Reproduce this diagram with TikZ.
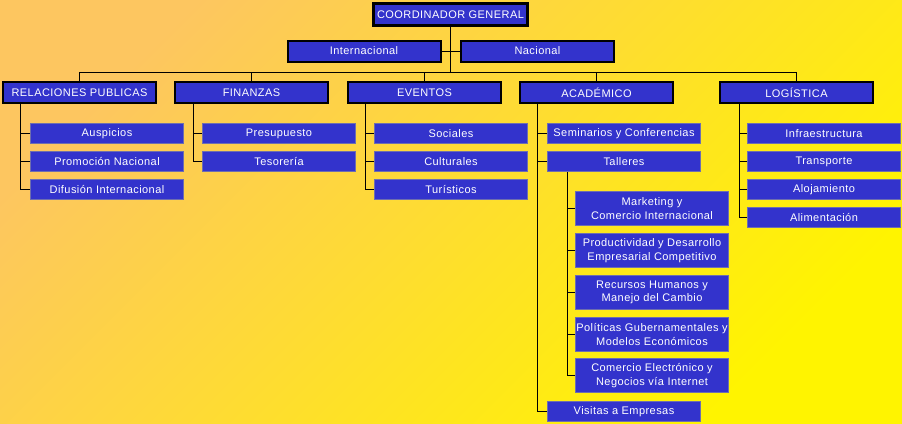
\documentclass[tikz,border=0pt]{standalone}
\usepackage{fontspec}
\setmainfont[LetterSpace=4]{Liberation Sans}
\definecolor{boxblue}{RGB}{51,51,204}
\definecolor{subedge}{RGB}{110,110,175}
\definecolor{bgorange}{RGB}{253,198,96}
\definecolor{bgyellow}{RGB}{255,244,0}
\begin{document}
\begin{tikzpicture}[x=1pt,y=-1pt,
  every node/.style={font=\fontsize{11}{13.5}\selectfont, text=white, inner sep=0pt, align=center},
  topbox/.style={fill=boxblue, draw=black, line width=2pt, minimum width=153pt, minimum height=21pt},
  subbox/.style={fill=boxblue, draw=subedge, line width=0.7pt, minimum width=153pt, minimum height=20pt},
  tallbox/.style={fill=boxblue, draw=subedge, line width=0.7pt, minimum width=153pt, minimum height=34pt},
  conn/.style={draw=black, line width=1pt}]
\useasboundingbox (0,0) rectangle (902,423);
\shade[top color=bgorange, bottom color=bgyellow, shading angle=45] (0,0) rectangle (902,423);

% top levels
\node[topbox, line width=3pt, minimum width=154pt, minimum height=22pt] (coord) at (450.5,14.5) {COORDINADOR GENERAL};
\node[topbox] (intl) at (364,51) {Internacional};
\node[topbox] (nac) at (537.5,51) {Nacional};
\coordinate (bus) at (450.5,72);

\node[topbox] (rp) at (79.5,92.5) {RELACIONES PUBLICAS};
\node[topbox] (fin) at (251.5,92.5) {FINANZAS};
\node[topbox] (ev) at (424.5,92.5) {EVENTOS};
\node[topbox] (aca) at (596.5,92.5) {ACADÉMICO};
\node[topbox] (log) at (796.5,92.5) {LOGÍSTICA};

% relaciones publicas
\node[subbox] (rp1) at (107,133.5) {Auspicios};
\node[subbox] (rp2) at (107,161.5) {Promoción Nacional};
\node[subbox] (rp3) at (107,189.5) {Difusión Internacional};
% finanzas
\node[subbox] (fin1) at (279,133.5) {Presupuesto};
\node[subbox] (fin2) at (279,161.5) {Tesorería};
% eventos
\node[subbox] (ev1) at (451,133.5) {Sociales};
\node[subbox] (ev2) at (451,161.5) {Culturales};
\node[subbox] (ev3) at (451,189.5) {Turísticos};
% academico
\node[subbox] (aca1) at (624,133.5) {Seminarios y Conferencias};
\node[subbox] (aca2) at (624,161.5) {Talleres};
\node[subbox] (aca3) at (624,411.5) {Visitas a Empresas};
\node[tallbox] (t1) at (652,208.5) {Marketing y\\Comercio Internacional};
\node[tallbox] (t2) at (652,250.5) {Productividad y Desarrollo\\Empresarial Competitivo};
\node[tallbox] (t3) at (652,292.5) {Recursos Humanos y\\Manejo del Cambio};
\node[tallbox] (t4) at (652,334.5) {Políticas Gubernamentales y\\Modelos Económicos};
\node[tallbox] (t5) at (652,375.5) {Comercio Electrónico y\\Negocios vía Internet};
% logistica
\node[subbox] (log1) at (824,133.5) {Infraestructura};
\node[subbox] (log2) at (824,161.5) {Transporte};
\node[subbox] (log3) at (824,189.5) {Alojamiento};
\node[subbox] (log4) at (824,217.5) {Alimentación};

% connectors
\draw[conn] (coord.south) -- (bus);
\draw[conn] (intl.east) -- (nac.west);
\draw[conn] (bus -| rp) -- (bus -| log);
\foreach \n in {rp,fin,ev,aca,log} \draw[conn] (bus -| \n) -- (\n.north);

\coordinate (rpS) at (20,104);
\coordinate (finS) at (193,104);
\coordinate (evS) at (365,104);
\coordinate (acaS) at (537,104);
\coordinate (logS) at (739,104);
\coordinate (talS) at (567,172);

\draw[conn] (rpS) |- (rp3.west);
\foreach \c in {rp1,rp2} \draw[conn] (\c.west) -- (\c.west -| rpS);
\draw[conn] (finS) |- (fin2.west);
\draw[conn] (fin1.west) -- (fin1.west -| finS);
\draw[conn] (evS) |- (ev3.west);
\foreach \c in {ev1,ev2} \draw[conn] (\c.west) -- (\c.west -| evS);
\draw[conn] (acaS) |- (aca3.west);
\foreach \c in {aca1,aca2} \draw[conn] (\c.west) -- (\c.west -| acaS);
\draw[conn] (talS) |- (t5.west);
\foreach \c in {t1,t2,t3,t4} \draw[conn] (\c.west) -- (\c.west -| talS);
\draw[conn] (logS) |- (log4.west);
\foreach \c in {log1,log2,log3} \draw[conn] (\c.west) -- (\c.west -| logS);
\end{tikzpicture}
\end{document}
